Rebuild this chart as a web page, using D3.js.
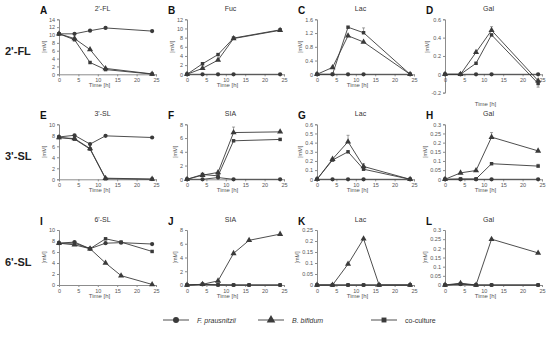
<!doctype HTML>
<html>
<head>
<script src="https://d3js.org/d3.v7.min.js"></script>
<style>
  body { margin: 0; background: #fff; }
  text { font-family: "Liberation Sans", Arial, sans-serif; }
</style>
</head>
<body>
<script>
    // time points
    var t5 = [0, 4, 8, 12, 24];
    var t6 = [0, 4, 8, 12, 16, 24];
    var xTicks = [0, 5, 10, 15, 20, 25];

    // A - 2'-FL
    var aFp = [10.3, 10.3, 11.1, 11.8, 11.0];
    var aBb = [10.3, 9.1, 6.3, 1.5, 0.1];
    var aCo = [10.3, 8.8, 3.0, 1.2, 0.05];
    // B - Fuc
    var bFp = [0, 0, 0, 0, 0];
    var bBb = [0, 1.3, 3.1, 7.8, 9.6];
    var bCo = [0, 2.3, 4.3, 7.9, 9.7];
    // C - Lac
    var cFp = [0, 0, 0, 0, 0];
    var cBb = [0, 0.2, 1.12, 0.94, 0];
    var cCo = [0, 0, 1.37, 1.21, 0];
    var cCoErr = [0, 0, 0, 0.14, 0];
    // D - Gal
    var dFp = [0, 0, 0, 0, 0];
    var dBb = [0, 0, 0.24, 0.48, -0.07];
    var dCo = [0, 0, 0.12, 0.43, -0.1];
    var dBbErr = [0, 0, 0, 0.04, 0];
    var dCoErr = [0, 0, 0, 0, -0.04];
    // E - 3'-SL
    var eFp = [7.7, 8.0, 6.4, 7.9, 7.6];
    var eBb = [7.6, 7.4, 5.6, 0.2, 0.05];
    var eCo = [7.6, 7.3, 5.5, 0.1, 0];
    // F - SIA
    var fFp = [0, 0, 0.25, 0, 0];
    var fBb = [0, 0.6, 1.0, 6.8, 6.9];
    var fCo = [0, 0.7, 0.5, 5.6, 5.8];
    var fBbErr = [0, 0, 0, 0.8, 0];
    // G - Lac
    var gFp = [0, 0, 0, 0, 0];
    var gBb = [0, 0.22, 0.41, 0.14, 0];
    var gCo = [0, 0.21, 0.3, 0.11, 0];
    var gBbErr = [0, 0, 0.07, 0.03, 0];
    // H - Gal
    var hFp = [0, 0, 0, 0, 0];
    var hBb = [0, 0.035, 0.048, 0.23, 0.155];
    var hCo = [0, 0.002, 0.002, 0.085, 0.072];
    var hBbErr = [0, 0, 0, 0.025, 0];
    var hCoErr = [0, 0, 0, 0, 0.01];
    // I - 6'-SL
    var iFp = [7.6, 7.8, 6.6, 7.6, 7.7, 7.45];
    var iBb = [7.6, 7.3, 6.6, 4.0, 1.7, 0.1];
    var iCo = [7.6, 7.6, 6.6, 8.4, 7.8, 6.1];
    // J - SIA
    var jFp = [0, 0.1, 0, 0, 0, 0];
    var jBb = [0, 0.1, 0.6, 4.6, 6.5, 7.4];
    var jCo = [0, 0.1, 0.05, 0, 0, 0];
    // K - Lac
    var kFp = [0, 0, 0, 0, 0, 0];
    var kBb = [0, 0, 0.095, 0.21, 0, 0];
    var kCo = [0, 0, 0, 0, 0, 0];
    // L - Gal
    var lFp = [0, 0.005, 0, 0, 0];
    var lBb = [0, 0.01, 0, 0.25, 0.175];
    var lCo = [0, 0.005, 0, 0, 0];

    var rowNames = ["2'-FL", "3'-SL", "6'-SL"];
    var seriesNames = ["F. prausnitzii", "B. bifidum", "co-culture"];

    var panels = [
        {id: "A", title: "2'-FL", row: 0, col: 0, t: t5, y: [0, 14], step: 2, s: [aFp, aBb, aCo]},
        {id: "B", title: "Fuc", row: 0, col: 1, t: t5, y: [0, 12], step: 2, s: [bFp, bBb, bCo]},
        {id: "C", title: "Lac", row: 0, col: 2, t: t5, y: [0, 1.6], step: 0.4, s: [cFp, cBb, cCo], e: [null, null, cCoErr]},
        {id: "D", title: "Gal", row: 0, col: 3, t: t5, y: [-0.2, 0.6], step: 0.2, s: [dFp, dBb, dCo], e: [null, dBbErr, dCoErr]},
        {id: "E", title: "3'-SL", row: 1, col: 0, t: t5, y: [0, 10], step: 2, s: [eFp, eBb, eCo]},
        {id: "F", title: "SIA", row: 1, col: 1, t: t5, y: [0, 8], step: 2, s: [fFp, fBb, fCo], e: [null, fBbErr, null]},
        {id: "G", title: "Lac", row: 1, col: 2, t: t5, y: [0, 0.6], step: 0.1, s: [gFp, gBb, gCo], e: [null, gBbErr, null]},
        {id: "H", title: "Gal", row: 1, col: 3, t: t5, y: [0, 0.3], step: 0.05, s: [hFp, hBb, hCo], e: [null, hBbErr, hCoErr]},
        {id: "I", title: "6'-SL", row: 2, col: 0, t: t6, y: [0, 10], step: 2, s: [iFp, iBb, iCo]},
        {id: "J", title: "SIA", row: 2, col: 1, t: t6, y: [0, 8], step: 2, s: [jFp, jBb, jCo]},
        {id: "K", title: "Lac", row: 2, col: 2, t: t6, y: [0, 0.25], step: 0.05, s: [kFp, kBb, kCo]},
        {id: "L", title: "Gal", row: 2, col: 3, t: t5, y: [0, 0.3], step: 0.05, s: [lFp, lBb, lCo]}
    ];

    var width = 550, height = 342;
    var colX = [59, 187, 317, 445];
    var rowY = [19.3, 124.3, 230];
    var pw = 97, ph = 55;
    var ink = "#3a3a3a", axisCol = "#8c8c8c", textCol = "#555";

    var symbols = [d3.symbolCircle, d3.symbolTriangle, d3.symbolSquare];
    var symSize = [14, 16, 12];

    var svg = d3.select("body").append("svg")
        .attr("width", width)
        .attr("height", height);

    // row labels
    svg.selectAll(".rowlab")
        .data(rowNames)
        .enter().append("text")
        .attr("class", "rowlab")
        .attr("x", 5)
        .attr("y", function(d, i) { return rowY[i] + 36; })
        .attr("font-size", "11px")
        .attr("font-weight", "bold")
        .attr("fill", "#222")
        .text(function(d) { return d; });

    panels.forEach(function(p) {
        var unit = ph / (p.y[1] - Math.max(p.y[0], 0));
        var h = (p.y[1] - p.y[0]) * unit;
        var g = svg.append("g")
            .attr("transform", "translate(" + colX[p.col] + "," + rowY[p.row] + ")");

        var x = d3.scaleLinear().domain([0, 25]).range([0, pw]);
        var y = d3.scaleLinear().domain(p.y).range([h, 0]);

        var yt = d3.range(p.y[0], p.y[1] + p.step / 2, p.step).map(function(v) { return +v.toFixed(3); });

        // y axis
        var ya = g.append("g")
            .call(d3.axisLeft(y).tickValues(yt).tickSize(2).tickPadding(2)
                .tickFormat(function(d) { return String(+d.toFixed(2)); }));
        // x axis at zero
        var xa = g.append("g")
            .attr("transform", "translate(0," + y(0) + ")")
            .call(d3.axisBottom(x).tickValues(xTicks).tickSize(2).tickPadding(2));

        [ya, xa].forEach(function(a) {
            a.selectAll("path,line").attr("stroke", axisCol);
            a.selectAll("text").attr("fill", textCol).attr("font-size", "5.5px")
                .attr("font-family", "Liberation Sans, Arial, sans-serif");
        });

        // widest y tick label decides where [mM] sits
        var maxW = 0;
        ya.selectAll("text").each(function() { maxW = Math.max(maxW, this.getComputedTextLength()); });

        // titles
        g.append("text")
            .attr("x", pw / 2 - 5)
            .attr("y", -8)
            .attr("text-anchor", "middle")
            .attr("font-size", "7px")
            .attr("fill", "#333")
            .text(p.title);
        g.append("text")
            .attr("x", -19)
            .attr("y", -5)
            .attr("font-size", "10px")
            .attr("font-weight", "bold")
            .attr("fill", "#111")
            .text(p.id);
        g.append("text")
            .attr("x", pw / 2 - 8)
            .attr("y", h + 13)
            .attr("text-anchor", "middle")
            .attr("font-size", "6px")
            .attr("fill", textCol)
            .text("Time [h]");
        g.append("text")
            .attr("transform", "translate(" + (-maxW - 7) + "," + (ph / 2) + ") rotate(-90)")
            .attr("text-anchor", "middle")
            .attr("font-size", "5.5px")
            .attr("fill", textCol)
            .text("[mM]");

        var line = d3.line()
            .x(function(d) { return x(d[0]); })
            .y(function(d) { return y(d[1]); });

        p.s.forEach(function(vals, si) {
            var pts = p.t.map(function(tt, k) { return [tt, vals[k]]; });
            var err = p.e ? p.e[si] : null;
            if (err) {
                g.selectAll(null)
                    .data(pts.filter(function(d, k) { return err[k] !== 0; }).map(function(d) {
                        return [d[0], d[1], err[p.t.indexOf(d[0])]];
                    }))
                    .enter().append("path")
                    .attr("d", function(d) {
                        var xx = x(d[0]), y1 = y(d[1]), y2 = y(d[1] + d[2]);
                        return "M" + xx + "," + y1 + "V" + y2 + "M" + (xx - 1.5) + "," + y2 + "H" + (xx + 1.5);
                    })
                    .attr("stroke", "#777")
                    .attr("stroke-width", 0.7)
                    .attr("fill", "none");
            }
            g.append("path")
                .datum(pts)
                .attr("d", line)
                .attr("fill", "none")
                .attr("stroke", ink)
                .attr("stroke-width", 0.9);
            g.selectAll(null)
                .data(pts)
                .enter().append("path")
                .attr("transform", function(d) { return "translate(" + x(d[0]) + "," + y(d[1]) + ")"; })
                .attr("d", d3.symbol().type(symbols[si]).size(symSize[si]))
                .attr("fill", ink);
        });
    });

    // legend
    var legX = [163, 258, 371];
    var leg = svg.selectAll(".leg")
        .data(seriesNames)
        .enter().append("g")
        .attr("class", "leg")
        .attr("transform", function(d, i) { return "translate(" + legX[i] + ",320)"; });
    leg.append("line")
        .attr("x1", 0).attr("x2", 26)
        .attr("stroke", ink).attr("stroke-width", 0.9);
    leg.append("path")
        .attr("transform", "translate(13,0)")
        .attr("d", function(d, i) { return d3.symbol().type(symbols[i]).size(symSize[i] * 2)(); })
        .attr("fill", ink);
    leg.append("text")
        .attr("x", 34)
        .attr("y", 2.5)
        .attr("font-size", "7px")
        .attr("fill", "#333")
        .attr("font-style", function(d, i) { return i < 2 ? "italic" : "normal"; })
        .text(function(d) { return d; });
</script>
</body>
</html>
